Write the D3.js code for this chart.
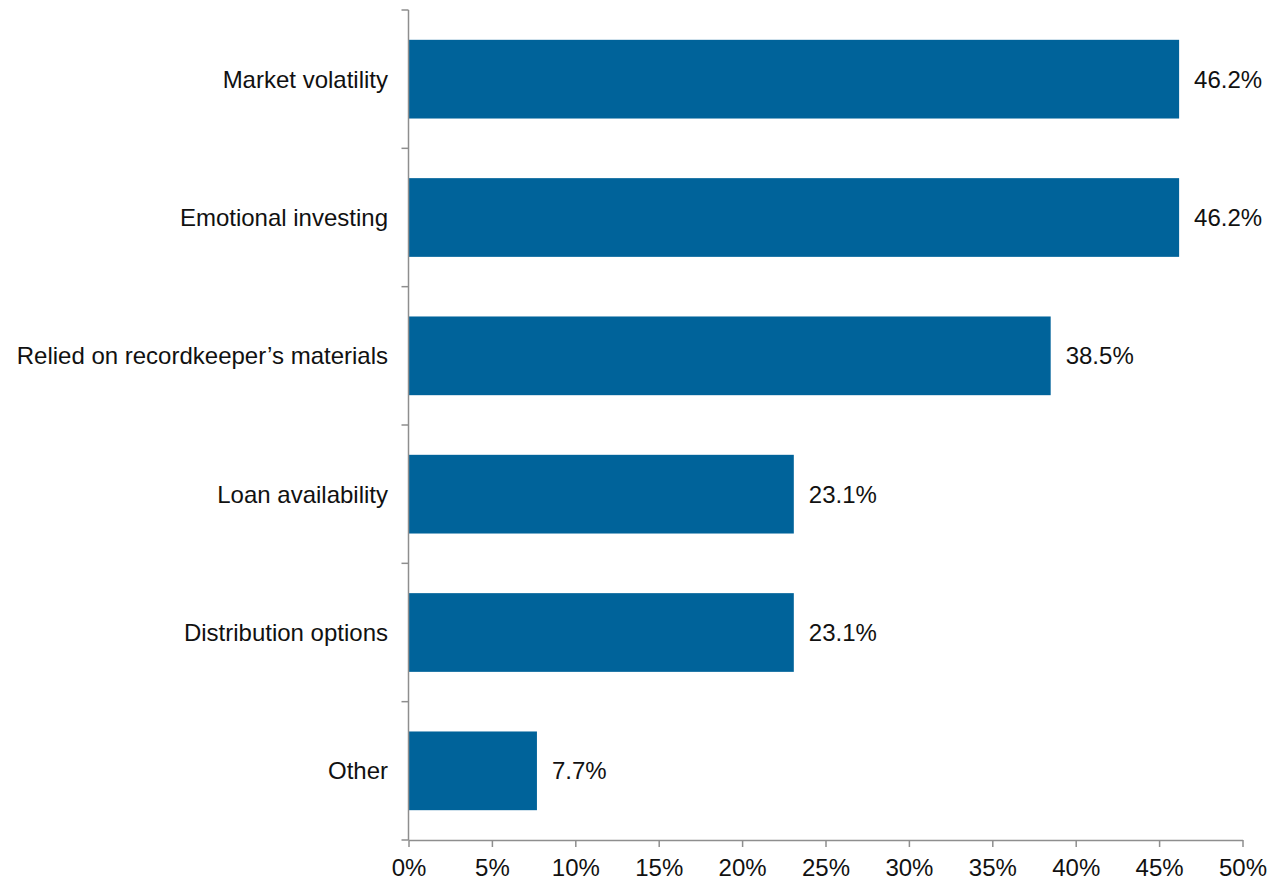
<!DOCTYPE html>
<html>
<head>
<meta charset="utf-8">
<script src="https://cdn.jsdelivr.net/npm/d3@7"></script>
<style>
  html, body { margin: 0; padding: 0; background: #fff; }
  svg { display: block; }
  text { font-family: "Liberation Sans", Arial, sans-serif; fill: #111; }
</style>
</head>
<body>
<svg id="chart" width="1284" height="881"></svg>
<script>
// Survey responses: share of respondents citing each factor
const categories = [
  "Market volatility",
  "Emotional investing",
  "Relied on recordkeeper\u2019s materials",
  "Loan availability",
  "Distribution options",
  "Other"
];
const values = [46.2, 46.2, 38.5, 23.1, 23.1, 7.7];
const xTicks = [0, 5, 10, 15, 20, 25, 30, 35, 40, 45, 50];

const svg = d3.select("#chart");
const axisColor = "#8e8e8e";
const barColor = "#00639a";
const textColor = "#111";
const fontSize = 24;

const x = d3.scaleLinear().domain([0, 50]).range([408.5, 1242.5]);
const y = d3.scaleBand()
  .domain(categories)
  .range([10, 840])
  .paddingInner(0.431)
  .paddingOuter(0.2155);

// Bars
svg.append("g")
  .selectAll("rect")
  .data(categories)
  .join("rect")
  .attr("x", x(0))
  .attr("y", d => y(d))
  .attr("width", (d, i) => x(values[i]) - x(0))
  .attr("height", y.bandwidth())
  .attr("fill", barColor);

// Value labels at bar ends
svg.append("g")
  .selectAll("text")
  .data(categories)
  .join("text")
  .attr("x", (d, i) => x(values[i]) + 15)
  .attr("y", d => y(d) + y.bandwidth() / 2)
  .attr("dy", "0.35em")
  .attr("font-size", fontSize)
  .text((d, i) => values[i].toFixed(1) + "%");

// Category axis: line with ticks on band boundaries
const yAxis = svg.append("g");
yAxis.append("line")
  .attr("x1", x(0)).attr("x2", x(0))
  .attr("y1", y.range()[0]).attr("y2", y.range()[1])
  .attr("stroke", axisColor).attr("stroke-width", 1.5);
const step = y.step();
const boundaries = d3.range(categories.length + 1).map(i => y.range()[0] + i * step);
yAxis.selectAll("line.tick")
  .data(boundaries)
  .join("line")
  .attr("class", "tick")
  .attr("x1", x(0) - 7).attr("x2", x(0))
  .attr("y1", d => d).attr("y2", d => d)
  .attr("stroke", axisColor).attr("stroke-width", 1.5);
yAxis.selectAll("text")
  .data(categories)
  .join("text")
  .attr("x", 388)
  .attr("y", d => y(d) + y.bandwidth() / 2)
  .attr("dy", "0.35em")
  .attr("text-anchor", "end")
  .attr("font-size", fontSize)
  .text(d => d);

// Value axis along the bottom
const xAxis = d3.axisBottom(x)
  .tickValues(xTicks)
  .tickSize(7)
  .tickSizeOuter(0)
  .tickPadding(12)
  .tickFormat(d => d + "%");
const gx = svg.append("g")
  .attr("transform", `translate(0,${y.range()[1]})`)
  .call(xAxis);
gx.select(".domain").attr("stroke", axisColor).attr("stroke-width", 1.5);
gx.selectAll(".tick line").attr("stroke", axisColor).attr("stroke-width", 1.5);
gx.selectAll(".tick text")
  .attr("font-size", fontSize)
  .attr("font-family", "Liberation Sans, Arial, sans-serif")
  .attr("fill", textColor);
</script>
</body>
</html>
